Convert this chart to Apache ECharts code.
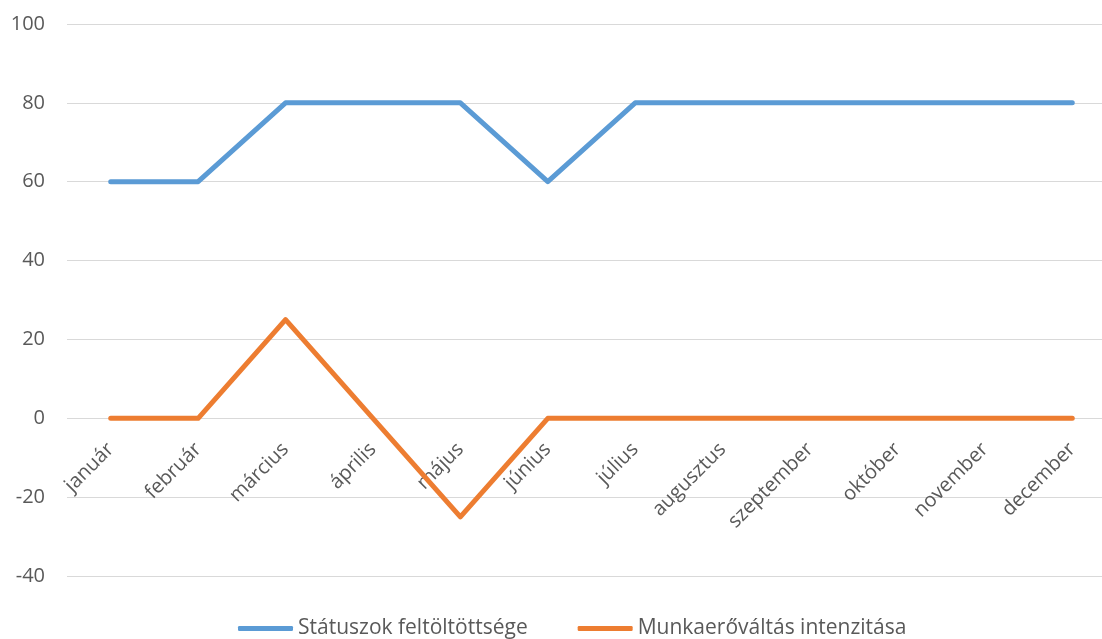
<!DOCTYPE html>
<html>
<head>
<meta charset="utf-8">
<script src="https://cdn.jsdelivr.net/npm/echarts@6/dist/echarts.min.js"></script>
<style>
html,body{margin:0;padding:0;background:#fff;}
#chart{width:1102px;height:639px;}
</style>
</head>
<body>
<div id="chart"></div>
<script>
const categories = ['január','február','március','április','május','június','július','augusztus','szeptember','október','november','december'];
const seriesNames = ['Státuszok feltöltöttsége','Munkaerőváltás intenzitása'];
const statusValues = [60,60,80,80,80,60,80,80,80,80,80,80];
const intensityValues = [0,0,25,0,-25,0,0,0,0,0,0,0];
const yMin = -40, yMax = 100, yInterval = 20;

const FONT = 'Open Sans';
const GRID_H = 552;
const zeroOffset = -((0 - yMin) / (yMax - yMin)) * GRID_H;
const chart = echarts.init(document.getElementById('chart'));
chart.setOption({
  animation: false,
  backgroundColor: '#ffffff',
  grid: {left: 67, top: 24, width: 1049, height: GRID_H, containLabel: false, outerBoundsMode: 'none'},
  legend: {
    top: 613,
    left: 233,
    itemWidth: 55,
    itemHeight: 5,
    itemGap: 50,
    icon: 'roundRect',
    textStyle: {fontFamily: FONT, fontSize: 21, color: '#595959'},
    data: seriesNames
  },
  xAxis: {
    type: 'category',
    data: categories,
    boundaryGap: true,
    position: 'bottom',
    offset: zeroOffset,
    axisLine: {show: false, onZero: false},
    axisTick: {show: false},
    axisLabel: {rotate: 45, margin: 28, interval: 0, fontFamily: FONT, fontSize: 20, color: '#595959'},
    splitLine: {show: false}
  },
  yAxis: {
    type: 'value',
    min: yMin, max: yMax, interval: yInterval,
    axisLine: {show: false},
    axisTick: {show: false},
    axisLabel: {margin: 22, fontFamily: FONT, fontSize: 20, color: '#595959'},
    splitLine: {lineStyle: {color: '#D9D9D9', width: 1}}
  },
  series: [
    {name: seriesNames[0], type: 'line', data: statusValues, showSymbol: false, symbol: 'none',
     lineStyle: {color: '#5B9BD5', width: 5, cap: 'round', join: 'round'}, itemStyle: {color: '#5B9BD5'}},
    {name: seriesNames[1], type: 'line', data: intensityValues, showSymbol: false, symbol: 'none',
     lineStyle: {color: '#ED7D31', width: 5, cap: 'round', join: 'round'}, itemStyle: {color: '#ED7D31'}}
  ]
});
</script>
</body>
</html>
